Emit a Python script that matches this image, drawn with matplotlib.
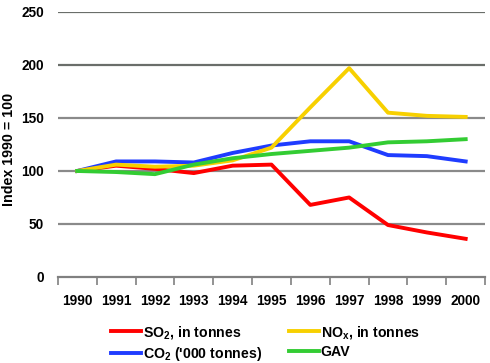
import matplotlib
matplotlib.use("Agg")
import matplotlib.pyplot as plt
import numpy as np

plt.rcParams['font.family'] = ['Liberation Sans', 'DejaVu Sans']
plt.rcParams['font.weight'] = 'bold'
plt.rcParams['mathtext.fontset'] = 'custom'
plt.rcParams['mathtext.rm'] = 'Liberation Sans:bold'
plt.rcParams['mathtext.it'] = 'Liberation Sans:bold'
plt.rcParams['mathtext.bf'] = 'Liberation Sans:bold'

years = ['1990', '1991', '1992', '1993', '1994', '1995', '1996', '1997', '1998', '1999', '2000']
so2 = [100, 105, 102, 98, 105, 106, 68, 75, 49, 42, 36]
nox = [100, 106, 104, 105, 110, 122, 160, 197, 155, 152, 151]
co2 = [100, 109, 109, 108, 117, 124, 128, 128, 115, 114, 109]
gav = [100, 99, 97, 106, 112, 116, 119, 122, 127, 128, 130]

fig = plt.figure(figsize=(4.9, 3.63), dpi=100)
ax = fig.add_axes([0.118, 0.237, 0.872, 0.73])

x = np.arange(len(years))
lw = 2.8
ax.plot(x, so2, color='#ff0000', lw=lw, label='SO$_2$, in tonnes', zorder=3)
ax.plot(x, co2, color='#1f3cff', lw=lw, label="CO$_2$ ('000 tonnes)", zorder=3)
ax.plot(x, nox, color='#f7d000', lw=lw, label='NO$_x$, in tonnes', zorder=3)
ax.plot(x, gav, color='#33cc33', lw=lw, label='GAV', zorder=3)

ax.set_xlim(-0.5, len(years) - 0.5)
ax.set_ylim(0, 250)
ax.set_yticks([0, 50, 100, 150, 200, 250])
for v in [50, 100, 150, 200, 250]:
    c = '#6a6e6a' if v >= 200 else '#8a8a8a'
    ax.axhline(v, color=c, lw=1.6, zorder=1)

ax.set_xticks(x)
ax.set_xticklabels(years, fontsize=9.8, fontweight='bold')
ax.set_xticks(np.arange(-0.5, len(years)), minor=True)
ax.tick_params(axis='x', which='major', length=0, pad=12)
ax.tick_params(axis='x', which='minor', length=6, width=1.2, color='#808080', direction='out')
ax.tick_params(axis='y', length=0, labelsize=9.8, pad=10)

for s in ['top', 'right', 'left']:
    ax.spines[s].set_visible(False)
ax.spines['bottom'].set_color('#808080')
ax.spines['bottom'].set_linewidth(1.6)

ax.set_ylabel('Index 1990 = 100', fontsize=10.3, fontweight='bold')
ax.yaxis.set_label_coords(-0.097, 0.48)

handles, labels = ax.get_legend_handles_labels()
fig.legend(handles, labels,
           loc='upper left', bbox_to_anchor=(0.212, 0.128), ncol=2, frameon=False,
           fontsize=10.2, handlelength=2.1, handletextpad=0.15, columnspacing=1.9,
           labelspacing=0.3, borderpad=0)

fig.savefig('out.png', dpi=100)
